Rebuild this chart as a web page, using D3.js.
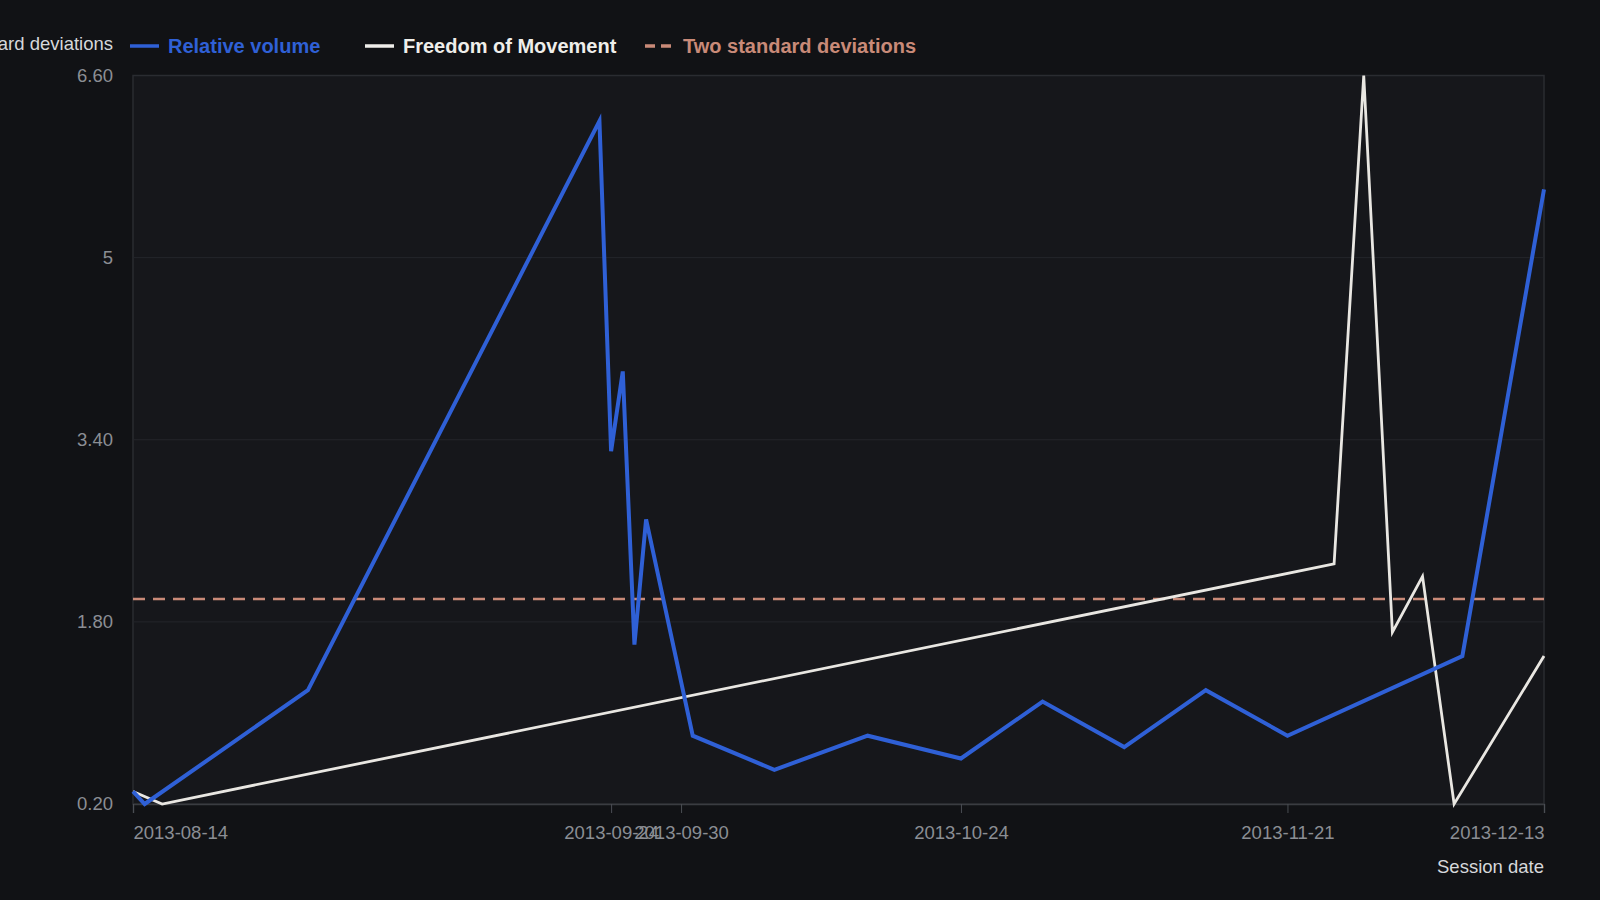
<!DOCTYPE html>
<html>
<head>
<meta charset="utf-8">
<script src="https://cdn.jsdelivr.net/npm/d3@7"></script>
<style>
  html, body { margin: 0; padding: 0; background: #111215; }
  svg { display: block; font-family: "Liberation Sans", Arial, sans-serif; }
</style>
</head>
<body>
<svg id="chart" width="1600" height="900"></svg>
<script>
// values
const volumeDates = ["2013-08-14", "2013-08-15", "2013-08-29", "2013-09-23", "2013-09-24", "2013-09-25",
  "2013-09-26", "2013-09-27", "2013-10-01", "2013-10-08", "2013-10-16", "2013-10-24",
  "2013-10-31", "2013-11-07", "2013-11-14", "2013-11-21", "2013-12-06", "2013-12-13"];
const volumeValues = [0.31, 0.20, 1.20, 6.20, 3.30, 4.00, 1.60, 2.70, 0.80, 0.50, 0.80, 0.60,
  1.10, 0.70, 1.20, 0.80, 1.50, 5.60];

const movementDates = ["2013-08-14", "2013-08-16T12:00", "2013-11-25", "2013-11-27T13:00",
  "2013-11-30", "2013-12-02T14:00", "2013-12-05T07:00", "2013-12-13"];
const movementValues = [0.31, 0.20, 2.31, 6.60, 1.71, 2.20, 0.20, 1.50];

const twoStdDev = 2.0;

const xTickDates = ["2013-08-14", "2013-09-24", "2013-09-30", "2013-10-24", "2013-11-21", "2013-12-13"];
const yTickValues = [0.2, 1.8, 3.4, 5, 6.6];
const yTickLabels = ["0.20", "1.80", "3.40", "5", "6.60"];

const legendLabels = ["Relative volume", "Freedom of Movement", "Two standard deviations"];

const parseDay = d3.utcParse("%Y-%m-%d");
const parseTime = d3.utcParse("%Y-%m-%dT%H:%M");
const parse = s => parseTime(s) || parseDay(s);

const volume = volumeDates.map((d, i) => ({date: parse(d), value: volumeValues[i]}));
const movement = movementDates.map((d, i) => ({date: parse(d), value: movementValues[i]}));
const xTicks = xTickDates.map(parse);

const svg = d3.select("#chart");
const plotLeft = 133, plotRight = 1544, plotTop = 75.5, plotBottom = 804;
const fontSize = 18.5;

const x = d3.scaleUtc()
  .domain([parse("2013-08-14"), parse("2013-12-13")])
  .range([plotLeft, plotRight]);
const y = d3.scaleLinear()
  .domain([0.2, 6.6])
  .range([plotBottom, plotTop]);

// plot area
svg.append("rect")
  .attr("x", plotLeft).attr("y", plotTop)
  .attr("width", plotRight - plotLeft).attr("height", plotBottom - plotTop)
  .attr("fill", "#16171b")
  .attr("stroke", "#2a2c31")
  .attr("stroke-width", 1.5);

// grid lines
svg.append("g")
  .selectAll("line")
  .data(yTickValues.slice(1, -1))
  .join("line")
  .attr("x1", plotLeft).attr("x2", plotRight)
  .attr("y1", d => y(d)).attr("y2", d => y(d))
  .attr("stroke", "#24262b")
  .attr("stroke-width", 1);

// y axis labels
svg.append("g")
  .selectAll("text")
  .data(yTickValues)
  .join("text")
  .attr("x", 113)
  .attr("y", d => y(d))
  .attr("dy", "0.34em")
  .attr("text-anchor", "end")
  .attr("fill", "#8b8e94")
  .attr("font-size", fontSize)
  .text((d, i) => yTickLabels[i]);

svg.append("text")
  .attr("x", 113).attr("y", 50)
  .attr("text-anchor", "end")
  .attr("fill", "#d6d8db")
  .attr("font-size", fontSize)
  .text("Standard deviations");

// x axis
const xAxis = svg.append("g")
  .attr("transform", `translate(0,${plotBottom})`)
  .call(d3.axisBottom(x)
    .tickValues(xTicks)
    .tickSize(9)
    .tickPadding(13)
    .tickFormat(d3.utcFormat("%Y-%m-%d")));
xAxis.select(".domain").attr("stroke", "#3a3c41").attr("stroke-width", 1.5);
xAxis.selectAll(".tick line").attr("stroke", "#4a4d53");
xAxis.selectAll(".tick text")
  .attr("fill", "#8b8e94")
  .attr("font-size", fontSize)
  .attr("font-family", "Liberation Sans, Arial, sans-serif")
  .attr("text-anchor", (d, i) => i === 0 ? "start" : (i === xTicks.length - 1 ? "end" : "middle"));

svg.append("text")
  .attr("x", plotRight).attr("y", 873)
  .attr("text-anchor", "end")
  .attr("fill", "#d6d8db")
  .attr("font-size", fontSize)
  .text("Session date");

// threshold line
svg.append("line")
  .attr("x1", plotLeft).attr("x2", plotRight)
  .attr("y1", y(twoStdDev)).attr("y2", y(twoStdDev))
  .attr("stroke", "#c98a78")
  .attr("stroke-width", 2.5)
  .attr("stroke-dasharray", "12,8");

const line = d3.line()
  .x(d => x(d.date))
  .y(d => y(d.value));

svg.append("path")
  .datum(movement)
  .attr("fill", "none")
  .attr("stroke", "#e9e7e2")
  .attr("stroke-width", 2.8)
  .attr("stroke-linejoin", "miter")
  .attr("d", line);

svg.append("path")
  .datum(volume)
  .attr("fill", "none")
  .attr("stroke", "#2f60d6")
  .attr("stroke-width", 4)
  .attr("stroke-linejoin", "miter")
  .attr("d", line);

// legend
const legendColors = ["#2f60d6", "#efeeea", "#c98a78"];
const legendX = [130, 365, 645];
const legend = svg.append("g")
  .selectAll("g")
  .data(legendLabels)
  .join("g")
  .attr("transform", (d, i) => `translate(${legendX[i]},46)`);
legend.append("line")
  .attr("x1", 0).attr("x2", 29)
  .attr("stroke", (d, i) => legendColors[i])
  .attr("stroke-width", 3.5)
  .attr("stroke-dasharray", (d, i) => i === 2 ? "10,6" : null);
legend.append("text")
  .attr("x", 38)
  .attr("dy", "0.35em")
  .attr("fill", (d, i) => legendColors[i])
  .attr("font-size", 20)
  .attr("font-weight", "bold")
  .text(d => d);
</script>
</body>
</html>
